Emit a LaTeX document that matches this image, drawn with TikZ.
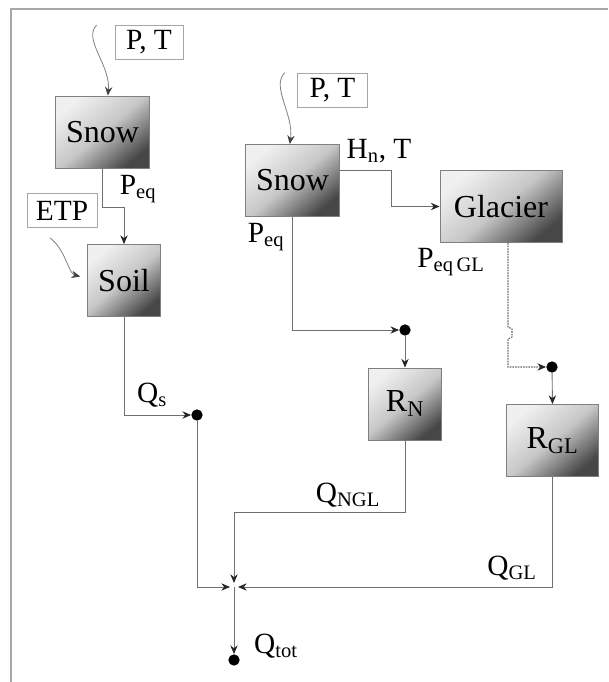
\documentclass[tikz,border=0pt]{standalone}
\usepackage{fontspec}
\setmainfont{Liberation Serif}
\usetikzlibrary{positioning, arrows.meta}
\definecolor{framegray}{HTML}{A8A8A8}
\definecolor{linegray}{HTML}{707070}

\begin{document}
\begin{tikzpicture}[
  x=0.75pt, y=-0.75pt,
  font=\fontsize{22}{26}\selectfont,
  every node/.style={align=center},
  flow/.style={-{Stealth[length=6.5pt,width=5.5pt,color=black!85]}, draw=linegray, line width=0.65pt},
  feed/.style={-{Stealth[length=6.5pt,width=5.5pt,color=black!75]}, draw=black!50, line width=0.6pt},
  store/.style={draw=black!50, line width=0.7pt, top color=black!6, bottom color=black!72,
                middle color=black!22, shading angle=40, inner sep=0pt, minimum height=54pt,
                font=\fontsize{24}{28}\selectfont},
  forcing/.style={draw=black!35, line width=0.6pt, fill=white, inner sep=0pt, minimum height=25.5pt},
  knot/.style={circle, fill=black, inner sep=0pt, minimum size=8.5pt},
  lbl/.style={inner sep=0pt},
]
\useasboundingbox (0,0) rectangle (608,682);

% ---------- frame ----------
\draw[framegray, line width=2.2pt] (11,682) -- (11,9) -- (608,9);

% ---------- left branch: snow and soil ----------
\node[forcing, minimum width=51pt] (ptA) at (149,42.5) {P, T};
\node[store, minimum width=71pt] (snowA) at (102.5,132) {Snow};
\node[lbl] (peqA) at (138,189) {P\textsubscript{eq}};
\node[forcing, minimum width=52.5pt] (etp) at (62,210.5) {ETP};
\node[store, minimum width=55pt] (soil) at (124,280.5) {Soil};
\node[knot] (kS) at (197,415) {};
\node[lbl] (qs) at (152,395) {Q\textsubscript{s}};

% ---------- right branch: snow, glacier, reservoirs ----------
\node[forcing, minimum width=53pt] (ptB) at (332.5,90) {P, T};
\node[store, minimum width=70pt] (snowB) at (292.5,180.5) {Snow};
\node[lbl] (hn) at (379,151) {H\textsubscript{n}, T};
\node[store, minimum width=91.5pt] (glacier) at (501,206.5) {Glacier};
\node[lbl] (peqB) at (266,237) {P\textsubscript{eq}};
\node[lbl] (peqGL) at (451,262) {P\textsubscript{eq\,GL}};
\node[knot] (kN) at (405,330) {};
\node[knot] (kGL) at (552,367) {};
\node[store, minimum width=55pt] (rN) at (405,404) {R\textsubscript{N}};
\node[store, minimum width=69pt] (rGL) at (552.5,440.5) {R\textsubscript{GL}};
\node[lbl] (qngl) at (348,495) {Q\textsubscript{NGL}};
\node[lbl] (qgl) at (512,568) {Q\textsubscript{GL}};

% ---------- outlet ----------
\coordinate (sum) at (234,587);
\node[knot] (kTot) at (234,660) {};
\node[lbl] (qtot) at (276,646) {Q\textsubscript{tot}};

% ---------- forcing arrows ----------
\draw[feed] ([xshift=-13.5pt]ptA.north west) .. controls +(-14,14) and +(3,-30) .. ([xshift=4pt]snowA.north);
\draw[feed] ([xshift=-9pt,yshift=-7.5pt]etp.south) .. controls +(16,12) and +(-12,-3) .. ([xshift=-5pt,yshift=3pt]soil.west);
\draw[feed] ([xshift=-9pt]ptB.north west) .. controls +(-14,14) and +(4,-30) .. ([xshift=-2pt]snowB.north);

% ---------- flows ----------
\draw[flow] (snowA.south) -- ++(0,39) -| (soil.north);
\draw[flow] (soil.south) |- (kS);
\draw[flow] ([yshift=7.9pt]snowB.east) -- ++(52,0) |- (glacier.west);
\draw[flow] (snowB.south) |- (kN);
\draw[flow] (kN) -- (rN.north);
\draw[flow, dash pattern=on 1.2pt off 0.8pt, line width=0.8pt, draw=black!60]
  ([xshift=5.25pt]glacier.south) -- ++(0,84) -- ++(4,2) -- ++(0,8) -- ++(-4,2) |- (kGL);
\draw[flow] (kGL) -- (rGL.north);
\draw[flow, shorten >=3pt] (kS) |- (sum);
\draw[flow, shorten >=3pt] (rN.south) -- ++(0,72) -| (sum);
\draw[flow, shorten >=3pt] (rGL.south) |- (sum);
\draw[flow] (sum) -- (kTot);

\end{tikzpicture}
\end{document}
